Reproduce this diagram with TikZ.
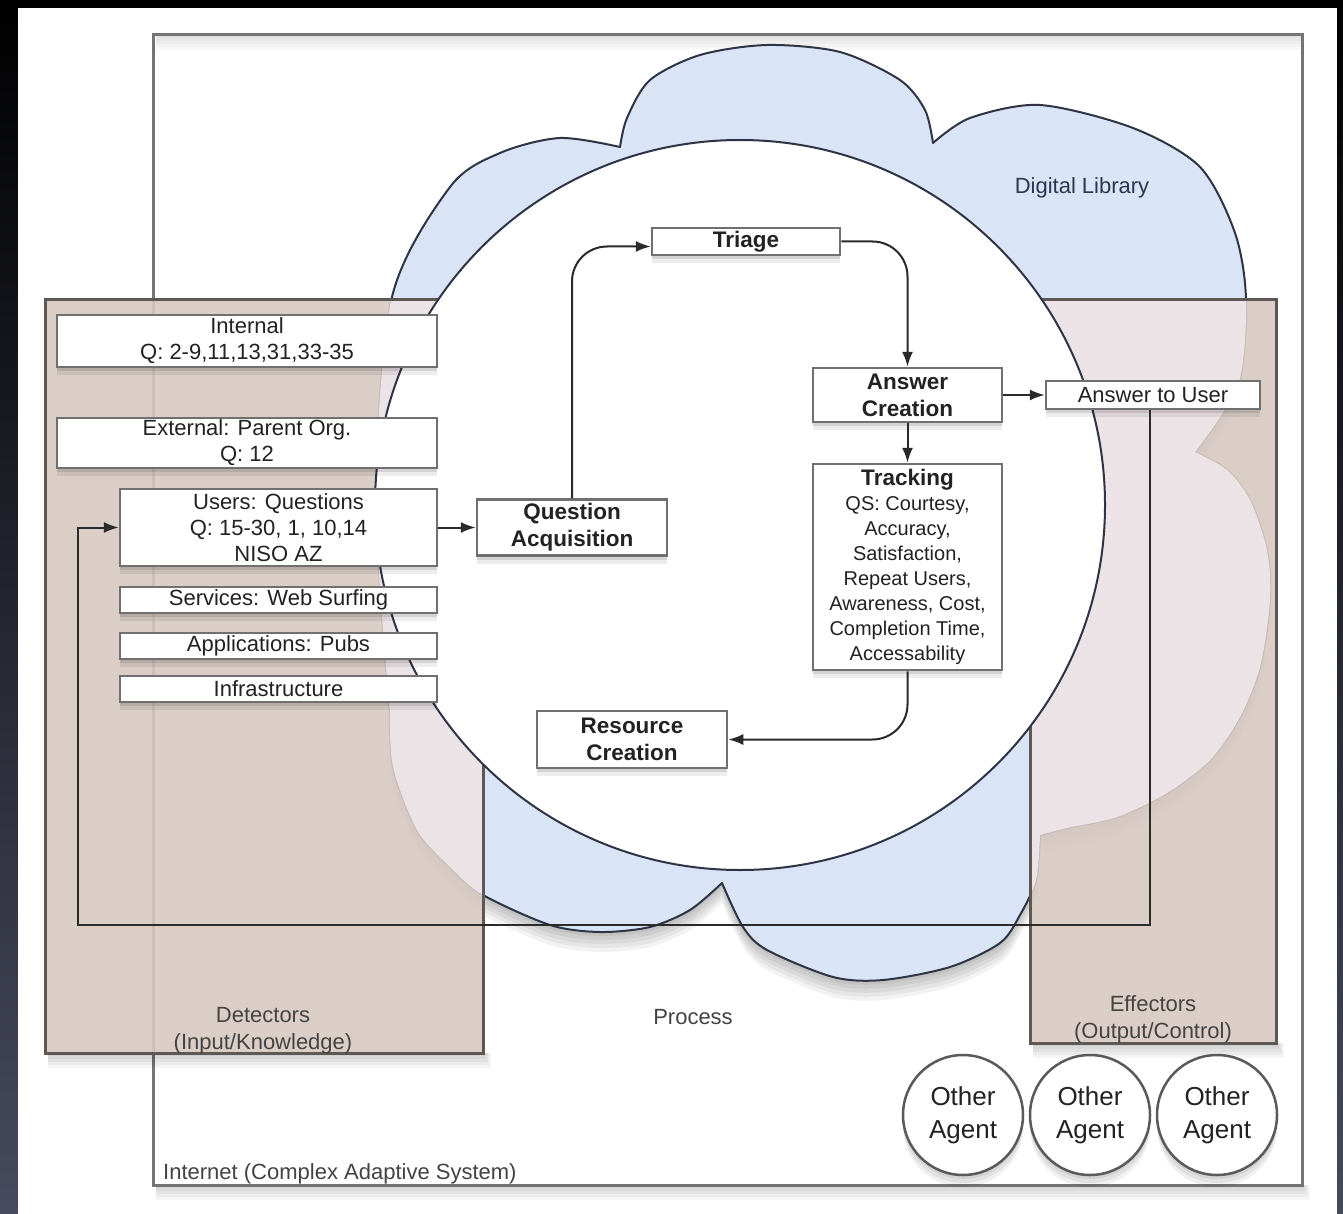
\documentclass[tikz,border=0pt]{standalone}
\usepackage{fontspec}
\setmainfont{Liberation Sans}
\usetikzlibrary{arrows.meta}
\definecolor{boxline}{HTML}{707070}
\definecolor{txt}{HTML}{222222}
\definecolor{arrc}{HTML}{2A2A2A}
\definecolor{cloudblue}{HTML}{D9E4F6}
\definecolor{cloudline}{HTML}{2E3444}
\definecolor{brownbox}{HTML}{D7C9C2}
\definecolor{brownline}{HTML}{5E5855}
\definecolor{pinkc}{HTML}{ECE3E7}
\definecolor{inetline}{HTML}{747474}
\definecolor{bgbottom}{HTML}{474A5E}
\definecolor{dltxt}{HTML}{2C3550}
\newcommand{\mycloudpath}{(390,713)
 -- plot[smooth] coordinates {(390,713) (376,500) (392,297) (450,187) (500,153) (560,138) (620,147)}
 -- plot[smooth] coordinates {(620,147) (627,118) (650,80) (700,55) (767,45) (840,52) (900,80) (925,110) (933,143)}
 -- plot[smooth] coordinates {(933,143) (970,118) (1040,105) (1133,128) (1200,167) (1235,233) (1246,300) (1238,385) (1195,452)}
 -- plot[smooth] coordinates {(1195,452) (1227,470) (1250,500) (1267,550) (1270,600) (1260,667) (1240,717) (1210,760) (1167,793) (1117,817) (1067,828) (1040,835)}
 -- plot[smooth] coordinates {(1040,835) (1036,880) (1020,915) (1000,943) (950,967) (883,980) (833,977) (767,950) (743,927) (722,883)}
 -- plot[smooth] coordinates {(722,883) (690,910) (650,927) (600,932) (550,925) (483,895) (450,867) (417,830) (393,767) (390,713)}
 -- cycle}
\begin{document}
\begin{tikzpicture}[x=1pt,y=-1pt,
  nsh/.style={preaction={draw=none, fill=black, fill opacity=0.10, transform canvas={yshift=-4pt}},
              preaction={draw=none, fill=black, fill opacity=0.07, transform canvas={yshift=-8pt}}},
  box/.style={nsh, draw=boxline, line width=2.5pt, fill=white, inner sep=0pt, align=center,
    font=\fontsize{22}{26}\selectfont, text=txt},
  bbox/.style={box, font=\bfseries\fontsize{22.5}{27}\selectfont},
  arr/.style={draw=arrc, line width=2pt, -{Latex[length=15pt,width=11pt]}},
  lbl/.style={inner sep=0pt, align=center, font=\fontsize{22}{27}\selectfont, text=txt!85},
  agent/.style={circle, draw=boxline!80!black, line width=2.5pt, fill=white, minimum size=120pt,
    inner sep=0pt, align=center, font=\fontsize{26}{33}\selectfont, text=txt},
  sidebox/.style={draw=brownline, line width=3pt}
]
\useasboundingbox (0,0) rectangle (1343,1214);
% background
\shade[top color=black, bottom color=bgbottom] (0,0) rectangle (1343,1214);
\fill[white] (18,8) rectangle (1337,1214);
% internet frame and its shadow
\foreach \s in {3,6,9,12,15} {
  \fill[black, opacity=0.035] (156,1185) rectangle (1302+\s/2,1185+\s);
  \fill[black, opacity=0.025] (156,35) rectangle (1302,35+\s);
}
\draw[inetline, line width=3pt] (153,35) rectangle (1302,1185);
% cloud shadow
\foreach \s in {4,8,12,16,20} {
  \fill[black, opacity=0.05, shift={(0,\s)}] \mycloudpath;
}
% cloud
\fill[cloudblue] \mycloudpath;
\draw[cloudline, line width=2pt, line join=round] \mycloudpath;
% side boxes shadows
\foreach \s in {3,6,9,12,15} {
  \fill[black, opacity=0.04] (48,1053) rectangle (483+\s/2,1053+\s);
  \fill[black, opacity=0.04] (1033,1043) rectangle (1276+\s/2,1043+\s);
}
% side boxes
\fill[brownbox, fill opacity=0.9] (45,300) rectangle (483,1053);
\fill[brownbox, fill opacity=0.9] (1030,300) rectangle (1276,1043);
\begin{scope}
  \clip (45,300) rectangle (483,1053) (1030,300) rectangle (1276,1043);
  \fill[pinkc] \mycloudpath;
\end{scope}
\draw[sidebox] (45,300) rectangle (483,1053);
\draw[sidebox] (1030,300) rectangle (1276,1043);
% process circle
\fill[white] (740,505) circle (365);
\draw[cloudline, line width=2pt] (740,505) circle (365);
% labels
\node[lbl, text=dltxt] (dl) at (1082,188) {Digital Library};
\node[lbl] (proc) at (693,1017) {Process};
\node[lbl] (det) at (263,1031) {Detectors\\(Input/Knowledge)};
\node[lbl] (eff) at (1153,1019) {Effectors\\(Output/Control)};
\node[lbl, anchor=west] (inet) at (163,1174) {Internet (Complex Adaptive System)};
% nodes
\node[box, minimum width=380pt, minimum height=52pt] (internal) at (247,341) {Internal\\Q: 2-9,11,13,31,33-35};
\node[box, minimum width=380pt, minimum height=50pt] (external) at (247,443) {External: Parent Org.\\Q: 12};
\node[box, minimum width=317pt, minimum height=77pt] (users) at (278.5,527.5) {Users: Questions\\Q: 15-30, 1, 10,14\\NISO AZ};
\node[box, minimum width=317pt, minimum height=26pt] (services) at (278.5,600) {Services: Web Surfing};
\node[box, minimum width=317pt, minimum height=26pt] (apps) at (278.5,646) {Applications: Pubs};
\node[box, minimum width=317pt, minimum height=26pt] (infra) at (278.5,689) {Infrastructure};
\node[bbox, minimum width=190pt, minimum height=56pt] (qa) at (572,527.5) {Question\\Acquisition};
\node[bbox, minimum width=188pt, minimum height=27pt] (triage) at (746,241.5) {Triage};
\node[bbox, minimum width=189pt, minimum height=54pt] (ac) at (907.5,395) {Answer\\Creation};
\node[box, minimum width=214pt, minimum height=28pt] (atu) at (1153,395) {Answer to User};
\node[box, minimum width=189pt, minimum height=206pt, font=\fontsize{20}{25}\selectfont] (track) at (907.5,567)
  {{\bfseries\fontsize{22.5}{25}\selectfont Tracking}\\QS: Courtesy,\\Accuracy,\\Satisfaction,\\Repeat Users,\\Awareness, Cost,\\Completion Time,\\Accessability};
\node[bbox, minimum width=190pt, minimum height=57pt] (rc) at (632,739.5) {Resource\\Creation};
% other agents (with soft shadows)
\foreach \c in {963,1090,1217} {
  \foreach \s in {4,8,12} {\fill[black, opacity=0.06] (\c,1115+\s) circle (60);}
}
\node[agent] (oa1) at (963,1115) {Other\\Agent};
\node[agent] (oa2) at (1090,1115) {Other\\Agent};
\node[agent] (oa3) at (1217,1115) {Other\\Agent};
% connectors
\coordinate (fbr) at (1150,925);
\coordinate (fbl) at (78,925);
\draw[arr] (atu.south -| fbr) -- (fbr) -- (fbl) -- (fbl |- users.west) -- (users.west);
\draw[arr] (users.east) -- (qa.west);
\draw[arr, rounded corners=35pt] (qa.north) |- ([yshift=-5pt]triage.west);
\draw[arr, rounded corners=35pt] (triage.east) -| (ac.north);
\draw[arr] (ac.south) -- (track.north);
\draw[arr] (ac.east) -- (atu.west);
\draw[arr, rounded corners=35pt] (track.south) |- (rc.east);
\end{tikzpicture}
\end{document}
